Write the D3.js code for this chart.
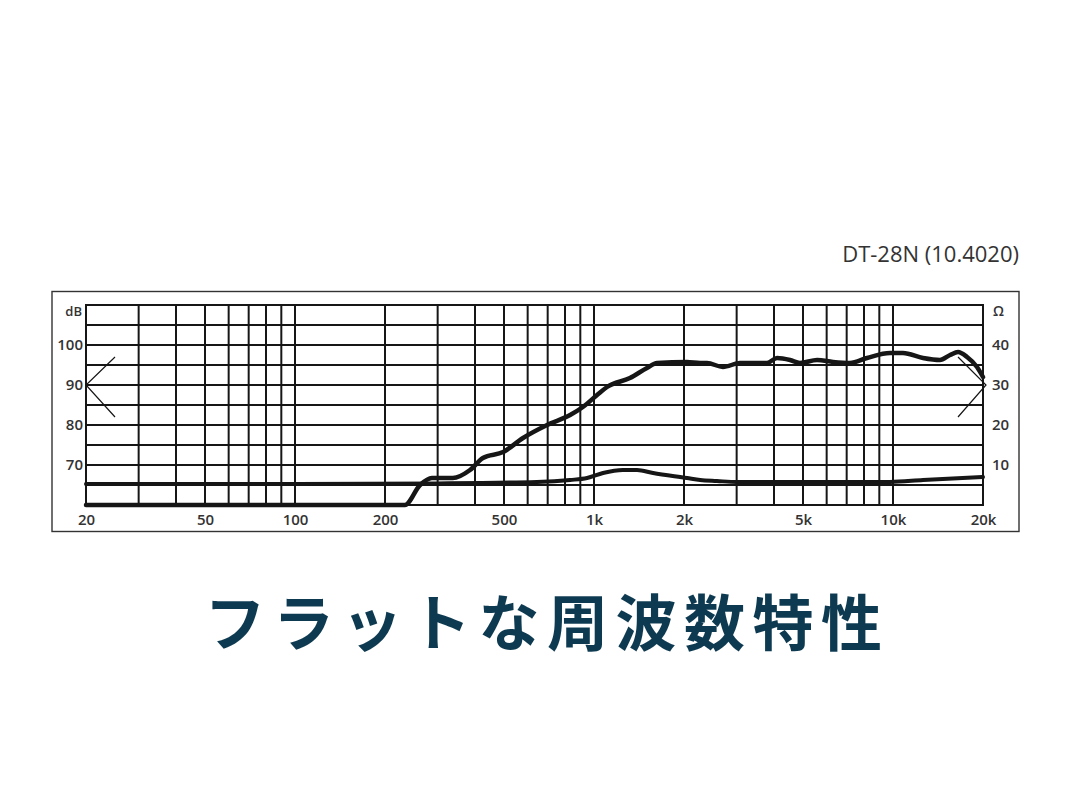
<!DOCTYPE html>
<html><head><meta charset="utf-8">
<script src="https://cdn.jsdelivr.net/npm/d3@7"></script>
<style>
html,body{margin:0;padding:0;background:#fff;}
svg{display:block;}
</style></head>
<body>
<svg id="c" width="1080" height="788"></svg>
<script>
// ---- data ----
const modelLabel = "DT-28N (10.4020)";
const chartTitle = "フラットな周波数特性";
const xTickValues = [20, 50, 100, 200, 500, 1000, 2000, 5000, 10000, 20000];
const xTickLabels = ["20", "50", "100", "200", "500", "1k", "2k", "5k", "10k", "20k"];
const xGridValues = [20,30,40,50,60,70,80,90,100,200,300,400,500,600,700,800,900,1000,2000,3000,4000,5000,6000,7000,8000,9000,10000,20000];
const dbTicks = [70, 80, 90, 100];
const ohmTicks = [10, 20, 30, 40];
const dbGrid = [60, 65, 70, 75, 80, 85, 90, 95, 100, 105, 110];
// frequency response (Hz, dB)
const respFreq = [20, 100, 233, 262, 287, 337, 385, 425, 497, 579, 697, 832, 918, 1024, 1106, 1319, 1504, 1626, 2047, 2265, 2388, 2700, 3078, 3791, 4094, 4526, 4886, 5572, 6300, 7180, 8186, 9772, 10800, 12600, 14360, 15520, 16500, 17690, 19100, 20000];
const respDb   = [60, 60, 60, 65, 66.75, 66.75, 68.75, 71.75, 73.25, 76.75, 80, 82.5, 84.5, 87.5, 89.5, 91.75, 94.25, 95.5, 95.75, 95.5, 95.5, 94.5, 95.5, 95.5, 96.75, 96.25, 95.5, 96.25, 95.75, 95.5, 96.75, 98, 98, 96.75, 96.25, 97.5, 98.25, 97, 94.5, 92];
// impedance (Hz, ohm)
const impFreq = [20, 100, 300, 644, 832, 948, 1072, 1250, 1393, 1576, 2047, 2265, 2578, 3008, 5000, 9772, 12600, 20000];
const impOhm  = [5.25, 5.25, 5.4, 5.75, 6.25, 6.75, 8, 8.75, 8.75, 8, 6.75, 6.25, 6, 5.75, 5.75, 5.75, 6.25, 7];

// ---- layout ----
const svg = d3.select("#c");
const L = 86, R = 983, T = 305, B = 505;
const x = d3.scaleLog().domain([20, 20000]).range([L, R]);
const y = d3.scaleLinear().domain([60, 110]).range([B, T]);
const yOhm = d3.scaleLinear().domain([0, 50]).range([B, T]);
const ink = "#161616";

// outer box
svg.append("rect").attr("x", 52).attr("y", 291.5).attr("width", 967).attr("height", 240)
  .attr("fill", "none").attr("stroke", "#333").attr("stroke-width", 1.4);

// grid
const g = svg.append("g");
g.selectAll("line.v").data(xGridValues).join("line")
  .attr("x1", d => x(d)).attr("x2", d => x(d)).attr("y1", T).attr("y2", B)
  .attr("stroke", ink).attr("stroke-width", 2);
g.selectAll("line.h").data(dbGrid).join("line")
  .attr("x1", L - 1).attr("x2", R + 1).attr("y1", d => y(d)).attr("y2", d => y(d))
  .attr("stroke", ink).attr("stroke-width", 2);

// axes (labels only)
const font = "'Open Sans', 'Noto Sans', sans-serif";
const xAxis = d3.axisBottom(x).tickValues(xTickValues).tickFormat((d, i) => xTickLabels[i]).tickSize(0).tickPadding(9);
const xg = svg.append("g").attr("transform", `translate(0,${B})`).call(xAxis);
const yAxisL = d3.axisLeft(y).tickValues(dbTicks).tickSize(0).tickPadding(3);
const ylg = svg.append("g").attr("transform", `translate(${L},0)`).call(yAxisL);
const yAxisR = d3.axisRight(yOhm).tickValues(ohmTicks).tickSize(0).tickPadding(9);
const yrg = svg.append("g").attr("transform", `translate(${R},0)`).call(yAxisR);
[xg, ylg, yrg].forEach(a => {
  a.select(".domain").remove();
  a.selectAll("text").attr("font-family", font).attr("font-size", 15).attr("font-weight", 600).attr("fill", "#333");
});
svg.append("text").attr("x", L - 4).attr("y", y(108.5)).attr("dy", "0.35em").attr("text-anchor", "end")
  .attr("font-family", font).attr("font-size", 13).attr("font-weight", 600).attr("fill", "#333").text("dB");
svg.append("text").attr("x", R + 10).attr("y", y(108.5)).attr("dy", "0.35em").attr("text-anchor", "start")
  .attr("font-family", font).attr("font-size", 14).attr("font-weight", 600).attr("fill", "#333").text("Ω");

// curves
const lineResp = d3.line().x((d, i) => x(respFreq[i])).y(d => y(d)).curve(d3.curveMonotoneX);
svg.append("path").attr("d", lineResp(respDb)).attr("fill", "none").attr("stroke", ink)
  .attr("stroke-width", 4.5).attr("stroke-linejoin", "round").attr("stroke-linecap", "round");
const lineImp = d3.line().x((d, i) => x(impFreq[i])).y(d => yOhm(d)).curve(d3.curveMonotoneX);
svg.append("path").attr("d", lineImp(impOhm)).attr("fill", "none").attr("stroke", ink)
  .attr("stroke-width", 4).attr("stroke-linejoin", "round").attr("stroke-linecap", "round");

// axis indicators (arrows at 90 dB / 30 Ω)
const aw = 29, ah = 28;
svg.append("path").attr("d", `M${L + aw},${y(90) - ah} L${L},${y(90)} L${L + aw},${y(90) + ah + 4}`)
  .attr("fill", "none").attr("stroke", ink).attr("stroke-width", 1.2);
svg.append("path").attr("d", `M${R - aw + 4},${yOhm(30) - ah} L${R + 3},${yOhm(30)} L${R - aw + 4},${yOhm(30) + ah + 4}`)
  .attr("fill", "none").attr("stroke", ink).attr("stroke-width", 1.2);

// model label
svg.append("text").attr("x", 1019).attr("y", 262).attr("text-anchor", "end")
  .attr("font-family", font).attr("font-size", 22).attr("fill", "#333").text(modelLabel);

// title
svg.append("text").attr("x", 547).attr("y", 646).attr("text-anchor", "middle")
  .attr("font-family", "'Noto Sans CJK JP', sans-serif").attr("font-size", 61).attr("font-weight", 700)
  .attr("letter-spacing", 7.5).attr("fill", "#0d3a50").text(chartTitle);
</script>
</body></html>
